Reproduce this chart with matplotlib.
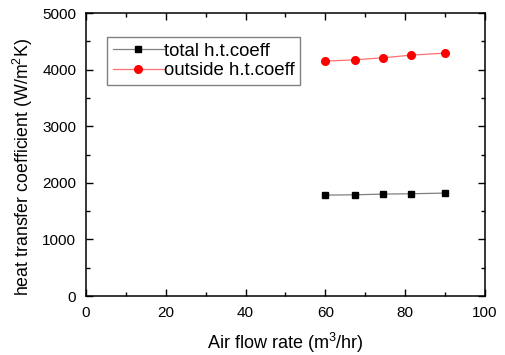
import matplotlib
matplotlib.use("Agg")
import matplotlib.pyplot as plt
from matplotlib.ticker import MultipleLocator

# air flow rate (m3/hr) and heat transfer coefficients (W/m2K)
flow_rate = [60, 67.5, 74.5, 81.5, 90]
total_htc = [1784, 1790, 1802, 1808, 1820]
outside_htc = [4152, 4175, 4211, 4258, 4293]

plt.rcParams['font.family'] = ['Liberation Sans', 'DejaVu Sans']
plt.rcParams['mathtext.default'] = 'regular'

fig = plt.figure(figsize=(5.06, 3.55), dpi=100)
ax = fig.add_axes([0.170, 0.166, 0.788, 0.797])

ax.plot(flow_rate, total_htc, color='#808080', linewidth=0.9,
        marker='s', markersize=4.8, markerfacecolor='black', markeredgecolor='black',
        label='total h.t.coeff')
ax.plot(flow_rate, outside_htc, color='#ff7070', linewidth=0.9,
        marker='o', markersize=5.5, markerfacecolor='red', markeredgecolor='red',
        label='outside h.t.coeff')

ax.set_xlim(0, 100)
ax.set_ylim(0, 5000)
ax.xaxis.set_major_locator(MultipleLocator(20))
ax.xaxis.set_minor_locator(MultipleLocator(10))
ax.yaxis.set_major_locator(MultipleLocator(1000))
ax.yaxis.set_minor_locator(MultipleLocator(500))
ax.tick_params(which='both', direction='in', top=True, right=True, width=1)
ax.tick_params(which='major', length=5, labelsize=11)
ax.tick_params(axis='x', which='major', pad=7)
ax.tick_params(axis='y', which='major', pad=7)
ax.tick_params(which='minor', length=3)
for s in ax.spines.values():
    s.set_linewidth(1.1)

ax.set_xlabel('Air flow rate (m$^3$/hr)', fontsize=13, labelpad=8)
ax.set_ylabel('heat transfer coefficient (W/m$^2$K)', fontsize=12.8)
ax.yaxis.set_label_coords(-0.128, 0.456)

leg = ax.legend(loc='upper left', bbox_to_anchor=(0.053, 0.915), borderaxespad=0,
                fontsize=13.4, handlelength=2.75, handletextpad=0.0,
                labelspacing=0.12, borderpad=0.3, fancybox=False,
                edgecolor='#808080', framealpha=1)
leg.get_frame().set_linewidth(1.0)

fig.savefig('out.png', dpi=100)
